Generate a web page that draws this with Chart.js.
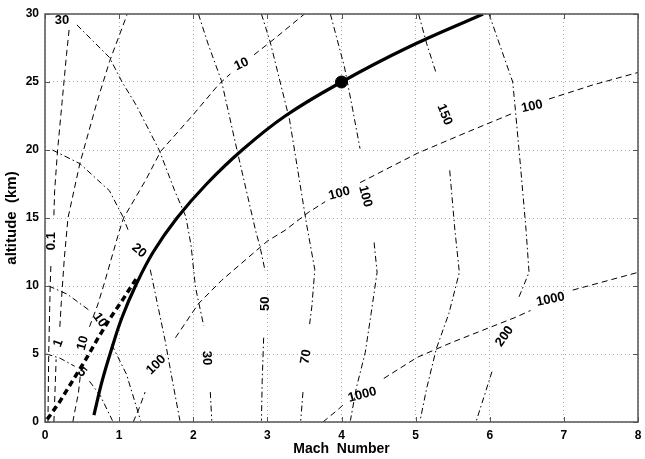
<!DOCTYPE html>
<html>
<head>
<meta charset="utf-8">
<script src="https://cdn.jsdelivr.net/npm/chart.js@4.4.1/dist/chart.umd.min.js"></script>
<style>
  html, body { margin: 0; padding: 0; background: #fff; }
</style>
</head>
<body>
<canvas id="grafico" width="645" height="459"></canvas>
<script>
// ejes
const xTicks = [0, 1, 2, 3, 4, 5, 6, 7, 8];
const yTicks = [0, 5, 10, 15, 20, 25, 30];

// curvas a trazos (dashed), null = hueco donde va la etiqueta
const dash01 = [[0.04,0],[0.05,5],[0.07,10],[0.08,11.6], null, [0.12,15.2],[0.13,17],[0.17,20],[0.23,23.5],[0.29,27],[0.33,29.1]];
const dash1 = [[0.12,0],[0.14,3],[0.15,4.6], null, [0.2,7],[0.22,8.8],[0.26,12],[0.31,15],[0.47,19],[0.7,23.5],[0.87,26.5],[1.11,30]];
const dash10 = [[0.375,0],[0.41,1],[0.45,2.1],[0.48,3.6], null, [0.6,7],[0.71,8.6],[0.8,10.2],[1.0,14],[1.06,15],[1.36,17.8],[1.56,19.9],[2.0,22.6],[2.34,24.8],[2.5,25.6], null, [2.82,27],[3.1,28.2],[3.5,30]];
const dash100 = [[1.19,0],[1.27,1],[1.35,2.2], null, [1.76,6.2],[2.07,8.7],[2.38,10.4],[2.7,11.9],[3.0,13.3],[3.24,14.1],[3.55,15.4],[3.78,16.2], null, [4.25,17.6],[5.02,19.75],[5.69,21.3],[6.31,22.7], null, [6.8,23.75],[7.4,24.8],[8,25.7]];
const dash1000 = [[3.75,0],[3.95,0.9],[4.03,1.3], null, [4.57,3.2],[5.02,4.75],[5.51,5.9],[6.35,7.7],[6.55,8.2], null, [7.12,9.7],[8,11]];

// curvas punto-raya (dash-dot)
const dashdot5 = [[0.02,5],[0.2,4.7],[0.4,4.1], null, [0.6,3.0],[0.75,1.9],[0.91,0.1]];
const dashdot10 = [[0.05,10],[0.3,9.4],[0.6,8.2], null, [0.9,5.7],[1.1,3.5],[1.29,0.1]];
const dashdot20 = [[0.1,20],[0.47,19],[0.71,17.8],[0.87,17],[1.05,15.1],[1.13,14], null, [1.42,11.2],[1.52,8.6],[1.62,6],[1.72,3],[1.82,0.1]];
const dashdot30 = [[0.43,29.2],[0.65,28],[0.87,26.8],[1.04,25],[1.23,23.3],[1.54,20],[1.75,17],[1.9,15.1],[1.97,13],[2.03,9.9],[2.14,7.1], null, [2.23,2.2],[2.25,0.1]];
const dashdot50 = [[2.07,30],[2.2,27.8],[2.38,25.1],[2.59,20],[2.84,14.1],[2.9,12.9],[2.97,11.1], null, [2.95,6.2],[2.93,3],[2.92,0.1]];
const dashdot70 = [[2.92,30],[3.04,27.9],[3.3,22.2],[3.53,14.5],[3.64,11.2],[3.6,8.5],[3.57,7.2], null, [3.48,2.2],[3.45,0.1]];
const dashdot100 = [[3.85,30],[4.04,26.1],[4.15,23],[4.25,20.1], null, [4.44,13.2],[4.48,11],[4.4,8],[4.32,5.1],[4.2,2.5],[4.12,0.1]];
const dashdot150 = [[5.04,30],[5.15,27.8],[5.28,25.6], null, [5.46,18.5],[5.53,14.1],[5.59,11],[5.45,8],[5.28,5.4],[5.15,2.5],[5.06,0.1]];
const dashdot200 = [[5.99,30],[6.15,27.5],[6.31,25],[6.35,22.7],[6.42,18.5],[6.49,14.1],[6.53,11],[6.38,9], null, [6.03,3.7],[5.82,0.1]];

// trayectoria gruesa y tramo inicial a trazos
const trayectoria = [[0.66,0.5],[0.77,3],[0.9,5.4],[1.04,7.7],[1.22,10],[1.46,12.5],[1.78,15],[2.18,17.5],[2.66,20],[3.24,22.5],[4.0,25],[4.88,27.5],[5.91,30]];
const subida = [[0.03,0.2],[0.2,1.5],[0.38,3.1],[0.55,4.6],[0.73,6.3],[0.9,7.8],[1.05,9.0],[1.25,10.7]];
const punto = [[4, 25]];

// etiquetas de contorno: texto, x, y, giro (grados)
const etiquetas = [
    ['30', 0.23, 29.5, 0],
    ['0.1', 0.09, 13.3, -90],
    ['1', 0.18, 5.8, -70],
    ['10', 0.51, 5.8, -75],
    ['10', 0.74, 7.5, 55],
    ['5', 0.5, 3.65, 40],
    ['20', 1.27, 12.6, 40],
    ['100', 1.5, 4.2, -45],
    ['30', 2.18, 4.7, 88],
    ['50', 2.97, 8.7, -90],
    ['70', 3.52, 4.8, -80],
    ['1000', 4.28, 2.0, -15],
    ['100', 3.97, 16.8, -15],
    ['100', 4.32, 16.6, 75],
    ['10', 2.65, 26.3, -25],
    ['150', 5.39, 22.6, 68],
    ['100', 6.57, 23.2, -12],
    ['200', 6.2, 6.3, -55],
    ['1000', 6.82, 9.0, -12]
];

const fuente = "'Liberation Sans', Arial, Helvetica, sans-serif";

function segmentos(puntos) {
    const out = [[]];
    puntos.forEach(p => {
        if (p === null) out.push([]);
        else out[out.length - 1].push({ x: p[0], y: p[1] });
    });
    return out;
}

const datasets = [];

function agregar(puntos, estilo) {
    segmentos(puntos).forEach(seg => {
        datasets.push(Object.assign({
            data: seg,
            showLine: true,
            pointRadius: 0,
            borderColor: '#000',
            backgroundColor: '#000',
            borderWidth: 1,
            fill: false,
            tension: 0
        }, estilo));
    });
}

[dash01, dash1, dash10, dash100, dash1000].forEach(c => agregar(c, { borderDash: [6, 4] }));
[dashdot5, dashdot10, dashdot20, dashdot30, dashdot50, dashdot70, dashdot100, dashdot150, dashdot200]
    .forEach(c => agregar(c, { borderDash: [6, 3, 1.5, 3] }));
agregar(subida, { borderWidth: 3.5, borderDash: [6, 4] });
agregar(trayectoria, { borderWidth: 3.2, tension: 0.4 });
datasets.push({
    data: punto.map(p => ({ x: p[0], y: p[1] })),
    showLine: false,
    pointRadius: 6,
    pointBackgroundColor: '#000',
    pointBorderColor: '#000'
});

// etiquetas sobre las curvas
const pluginEtiquetas = {
    id: 'etiquetas',
    afterDatasetsDraw(chart) {
        const ctx = chart.ctx;
        const sx = chart.scales.x, sy = chart.scales.y;
        ctx.save();
        ctx.fillStyle = '#000';
        ctx.font = 'bold 13px ' + fuente;
        ctx.textAlign = 'center';
        ctx.textBaseline = 'middle';
        etiquetas.forEach(([txt, x, y, ang]) => {
            ctx.save();
            ctx.translate(sx.getPixelForValue(x), sy.getPixelForValue(y));
            ctx.rotate(ang * Math.PI / 180);
            ctx.fillText(txt, 0, 0);
            ctx.restore();
        });
        ctx.restore();
    }
};

// marco con marcas hacia dentro
const pluginMarco = {
    id: 'marco',
    afterDraw(chart) {
        const ctx = chart.ctx;
        const a = chart.chartArea;
        const sx = chart.scales.x, sy = chart.scales.y;
        ctx.save();
        ctx.strokeStyle = '#555';
        ctx.lineWidth = 1.5;
        ctx.strokeRect(a.left, a.top, a.right - a.left, a.bottom - a.top);
        ctx.lineWidth = 1;
        ctx.beginPath();
        xTicks.forEach(v => {
            const px = Math.round(sx.getPixelForValue(v)) + 0.5;
            ctx.moveTo(px, a.bottom); ctx.lineTo(px, a.bottom - 5);
            ctx.moveTo(px, a.top); ctx.lineTo(px, a.top + 5);
        });
        yTicks.forEach(v => {
            const py = Math.round(sy.getPixelForValue(v)) + 0.5;
            ctx.moveTo(a.left, py); ctx.lineTo(a.left + 5, py);
            ctx.moveTo(a.right, py); ctx.lineTo(a.right - 5, py);
        });
        ctx.stroke();
        ctx.restore();
    }
};

new Chart(document.getElementById('grafico'), {
    type: 'scatter',
    data: { datasets: datasets },
    options: {
        responsive: false,
        animation: false,
        devicePixelRatio: 1,
        layout: { padding: { top: 14, right: 2, left: 0, bottom: 0 } },
        plugins: { legend: { display: false }, tooltip: { enabled: false } },
        scales: {
            x: {
                type: 'linear',
                min: 0, max: 8,
                afterBuildTicks(s) { s.ticks = xTicks.map(v => ({ value: v })); },
                afterFit(s) { s.height = 37; s.paddingLeft = 0; s.paddingRight = 0; },
                ticks: { color: '#000', padding: 6, font: { family: fuente, size: 12, weight: 'bold' } },
                grid: { color: '#aaa', lineWidth: 1, drawTicks: false },
                border: { display: false, dash: [1, 3] },
                title: {
                    display: true, text: 'Mach  Number', color: '#000',
                    padding: { top: 0, bottom: 1 },
                    font: { family: fuente, size: 14, weight: 'bold' }
                }
            },
            y: {
                type: 'linear',
                min: 0, max: 30,
                afterBuildTicks(s) { s.ticks = yTicks.map(v => ({ value: v })); },
                afterFit(s) { s.width = 45; s.paddingTop = 0; s.paddingBottom = 0; },
                ticks: { color: '#000', padding: 6, font: { family: fuente, size: 12, weight: 'bold' } },
                grid: { color: '#aaa', lineWidth: 1, drawTicks: false },
                border: { display: false, dash: [1, 3] },
                title: {
                    display: true, text: 'altitude  (km)', color: '#000',
                    padding: { top: 3, bottom: 4 },
                    font: { family: fuente, size: 15, weight: 'bold' }
                }
            }
        }
    },
    plugins: [pluginEtiquetas, pluginMarco]
});
</script>
</body>
</html>
